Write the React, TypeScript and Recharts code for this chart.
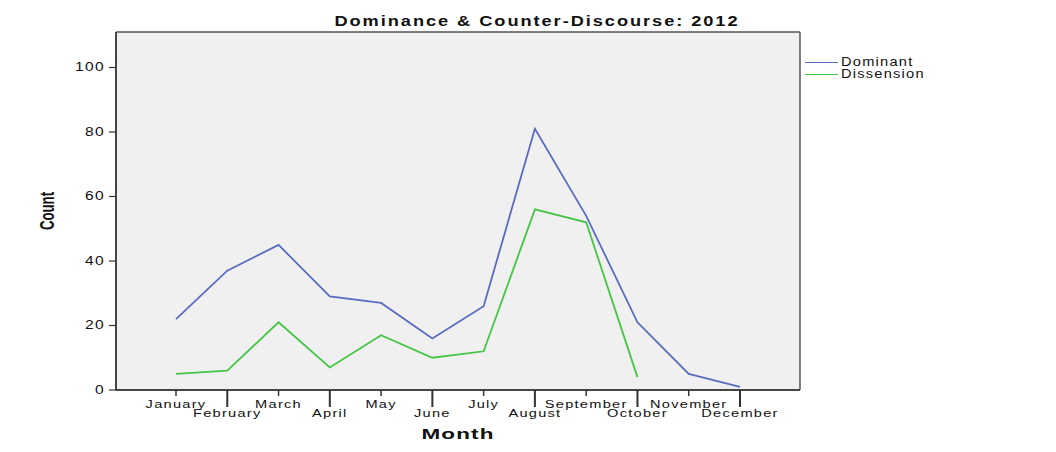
import React from "react";
import {
  LineChart,
  Line,
  XAxis,
  YAxis,
  Label,
  CartesianGrid,
} from "recharts";

// months on the x axis
const months = [
  "January",
  "February",
  "March",
  "April",
  "May",
  "June",
  "July",
  "August",
  "September",
  "October",
  "November",
  "December",
];

// counts
const dominant = [22, 37, 45, 29, 27, 16, 26, 81, 54, 21, 5, 1];
const dissension = [5, 6, 21, 7, 17, 10, 12, 56, 52, 4, null, null];

const yTicks = [0, 20, 40, 60, 80, 100];
const yMax = 111;

const COLORS = {
  dominant: "#5a6cbf", // blue
  dissension: "#44c544", // green
};

const data = months.map((m, i) => ({
  month: m,
  Dominant: dominant[i],
  Dissension: dissension[i],
}));

const FONT = "'Liberation Sans', Arial, sans-serif";

// SPSS output looks stretched sideways, so text gets a horizontal scale
function MonthTick(props: any) {
  const { x, y, payload, index } = props;
  const second = index % 2 === 1;
  return (
    <g>
      <line
        x1={x}
        y1={y}
        x2={x}
        y2={y + (second ? 17 : 6)}
        stroke="#333"
        strokeWidth={second ? 2 : 1.5}
      />
      <text
        transform={`translate(${x},${y + (second ? 27 : 18)}) scale(1.27,1)`}
        textAnchor="middle"
        fontSize={11.5}
        fontFamily={FONT}
        letterSpacing={1}
        fill="#111"
      >
        {payload.value}
      </text>
    </g>
  );
}

function CountTick(props: any) {
  const { x, y, payload } = props;
  return (
    <text
      transform={`translate(${x},${y + 4}) scale(1.3,1)`}
      textAnchor="end"
      fontSize={12}
      fontFamily={FONT}
      letterSpacing={1}
      fill="#111"
    >
      {payload.value}
    </text>
  );
}

function MonthLabel(props: any) {
  const { viewBox } = props;
  const cx = viewBox.x + viewBox.width / 2;
  return (
    <text
      transform={`translate(${cx},${viewBox.y + viewBox.height - 3}) scale(1.45,1)`}
      textAnchor="middle"
      fontSize={15.5}
      fontWeight="bold"
      fontFamily={FONT}
      letterSpacing={0.8}
      fill="#111"
    >
      Month
    </text>
  );
}

function CountLabel(props: any) {
  const { viewBox } = props;
  const cy = viewBox.y + viewBox.height / 2;
  return (
    <text
      transform={`translate(${viewBox.x + 18},${cy}) rotate(-90) scale(0.66,1)`}
      textAnchor="middle"
      fontSize={20}
      fontWeight="bold"
      fontFamily={FONT}
      fill="#111"
    >
      Count
    </text>
  );
}

function LegendBox() {
  const items = [
    { name: "Dominant", color: COLORS.dominant },
    { name: "Dissension", color: COLORS.dissension },
  ];
  return (
    <div
      style={{
        position: "absolute",
        left: 805,
        top: 56,
        fontFamily: FONT,
        fontSize: 12,
        color: "#111",
      }}
    >
      {items.map((it) => (
        <div
          key={it.name}
          style={{ display: "flex", alignItems: "center", height: 12 }}
        >
          <span
            style={{
              display: "inline-block",
              width: 33,
              height: 0,
              borderTop: `1.5px solid ${it.color}`,
              marginRight: 3,
            }}
          />
          <span
            style={{
              display: "inline-block",
              letterSpacing: 1,
              transform: "scaleX(1.22)",
              transformOrigin: "left center",
            }}
          >
            {it.name}
          </span>
        </div>
      ))}
    </div>
  );
}

export default function App() {
  return (
    <div
      style={{
        position: "absolute",
        left: 0,
        top: 0,
        width: 1056,
        height: 452,
        background: "#fff",
      }}
    >
      <div
        style={{
          position: "absolute",
          left: 337,
          width: 400,
          top: 13,
          textAlign: "center",
          fontFamily: FONT,
          fontWeight: "bold",
          fontSize: 14,
          letterSpacing: 1.5,
          color: "#111",
          transform: "scaleX(1.3)",
          transformOrigin: "center",
          whiteSpace: "nowrap",
        }}
      >
        Dominance &amp; Counter-Discourse: 2012
      </div>
      <LineChart
        width={1056}
        height={452}
        data={data}
        margin={{ top: 32, right: 256, bottom: 10, left: 36 }}
      >
        <CartesianGrid
          fill="#f0f0f0"
          stroke="#555"
          strokeWidth={1.5}
          horizontalCoordinatesGenerator={({ offset }: any) => [
            offset.top,
            offset.top + offset.height,
          ]}
          verticalCoordinatesGenerator={({ offset }: any) => [
            offset.left,
            offset.left + offset.width,
          ]}
        />
        <XAxis
          dataKey="month"
          scale="point"
          padding={{ left: 60, right: 60 }}
          height={52}
          tickLine={false}
          tickSize={0}
          tickMargin={0}
          interval={0}
          axisLine={{ stroke: "#333", strokeWidth: 1.5 }}
          tick={<MonthTick />}
        >
          <Label content={<MonthLabel />} />
        </XAxis>
        <YAxis
          type="number"
          domain={[0, yMax]}
          ticks={yTicks}
          width={80}
          tickSize={7}
          tickMargin={4}
          axisLine={{ stroke: "#333", strokeWidth: 1.5 }}
          tickLine={{ stroke: "#333", strokeWidth: 1.2 }}
          tick={<CountTick />}
        >
          <Label content={<CountLabel />} />
        </YAxis>
        <Line
          dataKey="Dominant"
          stroke={COLORS.dominant}
          strokeWidth={1.8}
          dot={false}
          activeDot={false}
          isAnimationActive={false}
        />
        <Line
          dataKey="Dissension"
          stroke={COLORS.dissension}
          strokeWidth={1.8}
          dot={false}
          activeDot={false}
          isAnimationActive={false}
        />
      </LineChart>
      <LegendBox />
    </div>
  );
}
